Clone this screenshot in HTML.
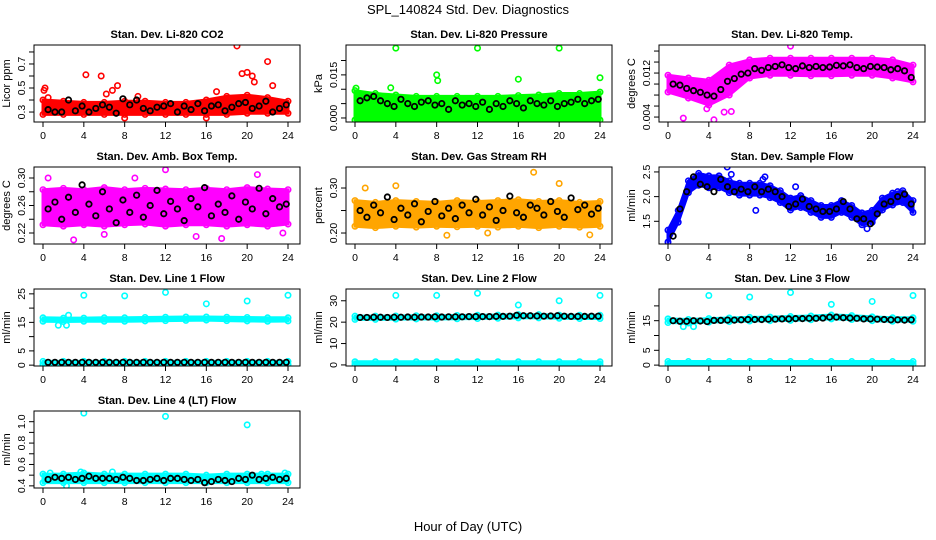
<!DOCTYPE html>
<html><head><meta charset="utf-8">
<style>
html,body{margin:0;padding:0;background:#fff;}
svg{display:block;font-family:"Liberation Sans",Arial,sans-serif;}
</style></head>
<body>
<svg id="chart" width="936" height="540" viewBox="0 0 936 540" xmlns="http://www.w3.org/2000/svg">
<text x="468" y="14" font-size="13" text-anchor="middle">SPL_140824  Std. Dev. Diagnostics</text>
<text x="468" y="531" font-size="13" text-anchor="middle">Hour of Day (UTC)</text>
</svg>
<script>
const xTicks=[0,4,8,12,16,20,24];
const bandHours13=[0,2,4,6,8,10,12,14,16,18,20,22,24];
const bandHours25=[0,1,2,3,4,5,6,7,8,9,10,11,12,13,14,15,16,17,18,19,20,21,22,23,24];
const blackHours=[0.5,1.17,1.83,2.5,3.17,3.83,4.5,5.17,5.83,6.5,7.17,7.83,8.5,9.17,9.83,10.5,11.17,11.83,12.5,13.17,13.83,14.5,15.17,15.83,16.5,17.17,17.83,18.5,19.17,19.83,20.5,21.17,21.83,22.5,23.17,23.83];

// Panel 1 CO2
const co2Lo=[0.28,0.28,0.28,0.28,0.28,0.28,0.28,0.28,0.28,0.28,0.29,0.29,0.29];
const co2Hi=[0.40,0.39,0.38,0.38,0.39,0.39,0.38,0.38,0.40,0.43,0.44,0.42,0.39];
const co2Black=[0.32,0.30,0.30,0.40,0.31,0.35,0.30,0.33,0.36,0.34,0.29,0.41,0.36,0.40,0.33,0.31,0.34,0.35,0.37,0.30,0.35,0.32,0.37,0.31,0.35,0.36,0.31,0.34,0.37,0.38,0.33,0.35,0.39,0.30,0.33,0.36];
const co2OutH=[0.1,0.2,4.2,5.7,7.3,6.8,8,16,19,19.5,20,20.5,20.7,22,22.5,9.3,17,0.5,6.2];
const co2OutV=[0.48,0.50,0.61,0.60,0.52,0.48,0.25,0.25,0.85,0.62,0.63,0.60,0.55,0.72,0.52,0.43,0.47,0.42,0.45];
// Panel 2 Pressure
const prLo=[-0.0007,-0.0007,-0.0007,-0.0007,-0.0007,-0.0007,-0.0007,-0.0007,-0.0007,-0.0007,-0.0007,-0.0007,-0.0007];
const prHi=[0.0095,0.0085,0.008,0.0075,0.0075,0.0075,0.0075,0.0075,0.0078,0.008,0.0085,0.0085,0.009];
const prBlack=[0.006,0.007,0.0075,0.006,0.005,0.004,0.0065,0.005,0.004,0.0055,0.006,0.0045,0.005,0.003,0.006,0.0045,0.005,0.004,0.0055,0.003,0.005,0.004,0.006,0.005,0.0035,0.006,0.005,0.0045,0.006,0.004,0.005,0.0055,0.0065,0.005,0.006,0.0065];
const prOutH=[4,8,8.1,12,16,20,24,0.1,3.5];
const prOutV=[0.0243,0.015,0.013,0.0243,0.0135,0.0243,0.014,0.0104,0.0105];
// Panel 3 Li-820 temp
const tLo=[0.00855,0.00745,0.00618,0.0080,0.0111,0.0116,0.0116,0.0115,0.0115,0.0116,0.0116,0.0111,0.0104];
const tHi=[0.0116,0.0111,0.0107,0.01345,0.0144,0.0147,0.0147,0.0147,0.0147,0.0147,0.0147,0.0144,0.01345];
const tBlack=[0.0100,0.0098,0.0092,0.0088,0.0085,0.0080,0.0078,0.0090,0.0105,0.0110,0.0118,0.0120,0.0128,0.0125,0.0130,0.0132,0.0135,0.0130,0.0128,0.0133,0.0130,0.0132,0.0130,0.0131,0.0134,0.0133,0.0135,0.0130,0.0128,0.0132,0.0131,0.0130,0.0126,0.0128,0.0124,0.0112];
const tOutH=[1.5,4.5,12,5.5,3.8,6.2];
const tOutV=[0.0038,0.0035,0.0169,0.0049,0.0055,0.0050];
// Panel 4 Amb box temp
const abLo=[0.232,0.230,0.232,0.230,0.232,0.233,0.230,0.232,0.232,0.230,0.232,0.230,0.233];
const abHi=[0.283,0.285,0.283,0.286,0.283,0.285,0.284,0.283,0.285,0.283,0.286,0.284,0.283];
const abBlack=[0.255,0.265,0.240,0.272,0.250,0.290,0.262,0.245,0.280,0.255,0.235,0.268,0.250,0.275,0.243,0.260,0.282,0.248,0.266,0.255,0.238,0.270,0.258,0.286,0.245,0.262,0.250,0.274,0.240,0.265,0.255,0.285,0.248,0.270,0.258,0.262];
const abOutH=[12,3,17.5,0.5,9,21,23.5,15,6];
const abOutV=[0.312,0.210,0.212,0.300,0.300,0.305,0.220,0.215,0.218];
// Panel 5 RH
const rhLo=[0.215,0.212,0.215,0.213,0.215,0.214,0.215,0.213,0.215,0.212,0.215,0.213,0.215];
const rhHi=[0.272,0.268,0.272,0.270,0.268,0.272,0.270,0.272,0.274,0.270,0.272,0.268,0.270];
const rhBlack=[0.250,0.235,0.262,0.245,0.280,0.230,0.255,0.240,0.265,0.225,0.248,0.270,0.238,0.255,0.232,0.262,0.245,0.275,0.240,0.258,0.228,0.250,0.282,0.245,0.235,0.262,0.255,0.240,0.270,0.248,0.235,0.278,0.252,0.262,0.242,0.255];
const rhOutH=[17.5,4,20,1,9,13,23];
const rhOutV=[0.335,0.305,0.310,0.300,0.195,0.200,0.196];
// Panel 6 Sample flow
const sfLo=[1.08,1.48,2.08,2.23,2.18,2.18,2.08,2.03,2.03,2.03,1.98,1.88,1.73,1.78,1.68,1.58,1.58,1.68,1.58,1.43,1.48,1.73,1.83,1.88,1.68];
const sfHi=[1.32,1.72,2.32,2.47,2.42,2.42,2.32,2.27,2.27,2.27,2.22,2.12,1.97,2.02,1.92,1.82,1.82,1.92,1.82,1.67,1.72,1.97,2.07,2.12,1.92];
const sfBlack=[1.2,1.75,2.1,2.4,2.25,2.2,2.1,2.35,2.2,2.1,2.15,2.1,2.2,2.1,2.15,2.1,2.0,1.8,1.85,1.95,1.8,1.75,1.7,1.7,1.75,1.9,1.75,1.55,1.55,1.45,1.65,1.85,1.9,2.0,2.05,1.85];
const sfOutH=[5.8,6.2,9.5,9.3,8.6,12.5,19.5,22.5];
const sfOutV=[2.6,2.45,2.4,2.35,1.72,2.2,1.35,2.1];
// Panel 7 Line 1
const l1Lo=[15.4,15.3,15.4,15.4,15.4,15.5,15.6,15.7,15.8,15.6,15.5,15.4,15.5];
const l1Hi=[16.6,16.5,16.5,16.6,16.6,16.7,16.8,16.9,16.9,16.8,16.7,16.6,16.6];
const l1Lo2=[0.2,0.2,0.2,0.2,0.2,0.2,0.2,0.2,0.2,0.2,0.2,0.2,0.2];
const l1Hi2=[1.3,1.3,1.3,1.3,1.3,1.3,1.3,1.3,1.3,1.3,1.3,1.3,1.3];
const l1Black=[1.0,1.0,1.0,1.0,1.0,1.0,1.0,1.0,1.0,1.0,1.0,1.0,1.0,1.0,1.0,1.0,1.0,1.0,1.0,1.0,1.0,1.0,1.0,1.0,1.0,1.0,1.0,1.0,1.0,1.0,1.0,1.0,1.0,1.0,1.0,1.0];
const l1OutH=[1.5,2.3,2.5,4,8,12,16,20,24];
const l1OutV=[14,14,17.5,24.5,24.3,25.5,21.5,22.5,24.5];
// Panel 8 Line 2
const l2Lo=[21.3,21.3,21.4,21.5,21.5,21.6,21.7,21.8,22.0,22.0,21.8,21.7,21.7];
const l2Hi=[22.8,22.8,22.9,23.0,23.0,23.1,23.2,23.3,23.5,23.5,23.3,23.2,23.2];
const l2Lo2=[0.3,0.3,0.3,0.3,0.3,0.3,0.3,0.3,0.3,0.3,0.3,0.3,0.3];
const l2Hi2=[1.5,1.5,1.5,1.5,1.5,1.5,1.5,1.5,1.5,1.5,1.5,1.5,1.5];
const l2Black=[22.2,22.2,22.3,22.3,22.2,22.3,22.3,22.4,22.3,22.4,22.4,22.5,22.4,22.5,22.5,22.5,22.6,22.6,22.6,22.6,22.7,22.7,22.8,23.2,23.0,23.0,22.9,22.8,22.9,23.0,22.8,22.7,22.7,22.7,22.8,22.8];
const l2OutH=[4,8,12,16,20,24];
const l2OutV=[32.5,32.5,33.5,28,30,32.5];
// Panel 9 Line 3
const l3Lo=[14.4,14.2,14.5,14.7,14.9,15.0,15.1,15.3,15.6,15.4,15.0,14.8,14.8];
const l3Hi=[15.6,15.4,15.7,15.9,16.1,16.2,16.4,16.6,16.9,16.7,16.3,16.0,16.0];
const l3Lo2=[0.3,0.3,0.3,0.3,0.3,0.3,0.3,0.3,0.3,0.3,0.3,0.3,0.3];
const l3Hi2=[1.2,1.2,1.2,1.2,1.2,1.2,1.2,1.2,1.2,1.2,1.2,1.2,1.2];
const l3Black=[15.0,14.8,14.8,15.0,14.9,14.7,15.1,15.1,15.2,15.2,15.3,15.4,15.4,15.4,15.5,15.5,15.6,15.6,15.7,15.7,15.8,15.8,15.9,16.2,16.2,16.0,15.9,15.8,15.6,15.6,15.5,15.4,15.3,15.3,15.2,15.3];
const l3OutH=[1.5,2.5,4,8,12,16,20,24];
const l3OutV=[13,13,23.5,23,24.5,20.5,21.5,23.5];
// Panel 10 Line 4
const l4Lo=[0.43,0.43,0.43,0.43,0.43,0.43,0.43,0.43,0.43,0.43,0.43,0.43,0.43];
const l4Hi=[0.51,0.51,0.52,0.51,0.51,0.51,0.51,0.51,0.50,0.51,0.51,0.51,0.51];
const l4Black=[0.46,0.48,0.47,0.48,0.46,0.47,0.49,0.47,0.47,0.47,0.46,0.48,0.47,0.45,0.45,0.46,0.47,0.45,0.47,0.47,0.46,0.45,0.46,0.43,0.44,0.46,0.45,0.44,0.47,0.46,0.50,0.46,0.47,0.48,0.46,0.47];
const l4OutH=[4,12,20,0.7,3.7,6.8,2.3,21.4,23.7];
const l4OutV=[1.08,1.05,0.97,0.52,0.53,0.53,0.40,0.51,0.52];

const NS="http://www.w3.org/2000/svg";
const svg=document.getElementById('chart');
function el(tag,attrs,parent){const e=document.createElementNS(NS,tag);for(const k in attrs)e.setAttribute(k,attrs[k]);(parent||svg).appendChild(e);return e;}

const panels=[
 {t:"Stan. Dev. Li-820 CO2",yl:"Licor ppm",c:"#ff0000",r:0,col:0,ymin:0.217,ymax:0.858,ticks:[0.3,0.4,0.5,0.6,0.7,0.8],labs:[0.3,0.5,0.7],fmt:1,bands:[[bandHours13,co2Lo,co2Hi]],bk:co2Black,oh:co2OutH,ov:co2OutV},
 {t:"Stan. Dev. Li-820 Pressure",yl:"kPa",c:"#00ff00",r:0,col:1,ymin:-0.0014,ymax:0.0254,ticks:[0,0.005,0.01,0.015,0.02],labs:[0,0.015],fmt:3,bands:[[bandHours13,prLo,prHi]],bk:prBlack,oh:prOutH,ov:prOutV},
 {t:"Stan. Dev. Li-820 Temp.",yl:"degrees C",c:"#ff00ff",r:0,col:2,ymin:0.0031,ymax:0.0171,ticks:[0.004,0.006,0.008,0.010,0.012,0.014,0.016],labs:[0.004,0.012],fmt:3,bands:[[bandHours13,tLo,tHi]],bk:tBlack,oh:tOutH,ov:tOutV},
 {t:"Stan. Dev. Amb. Box Temp.",yl:"degrees C",c:"#ff00ff",r:1,col:0,ymin:0.204,ymax:0.316,ticks:[0.22,0.24,0.26,0.28,0.30],labs:[0.22,0.26,0.30],fmt:2,bands:[[bandHours13,abLo,abHi]],bk:abBlack,oh:abOutH,ov:abOutV},
 {t:"Stan. Dev. Gas Stream RH",yl:"percent",c:"#ffa500",r:1,col:1,ymin:0.1756,ymax:0.3467,ticks:[0.20,0.25,0.30],labs:[0.20,0.30],fmt:2,bands:[[bandHours13,rhLo,rhHi]],bk:rhBlack,oh:rhOutH,ov:rhOutV},
 {t:"Stan. Dev. Sample Flow",yl:"ml/min",c:"#0000ff",r:1,col:2,ymin:1.04,ymax:2.6,ticks:[1.5,2.0,2.5],labs:[1.5,2.0,2.5],fmt:1,bands:[[bandHours25,sfLo,sfHi]],bk:sfBlack,oh:sfOutH,ov:sfOutV},
 {t:"Stan. Dev. Line 1 Flow",yl:"ml/min",c:"#00ffff",r:2,col:0,ymin:-0.3,ymax:26.7,ticks:[0,5,10,15,20,25],labs:[0,5,15,25],fmt:0,bands:[[bandHours13,l1Lo,l1Hi],[bandHours13,l1Lo2,l1Hi2]],bk:l1Black,oh:l1OutH,ov:l1OutV},
 {t:"Stan. Dev. Line 2 Flow",yl:"ml/min",c:"#00ffff",r:2,col:1,ymin:-0.5,ymax:35.5,ticks:[0,10,20,30],labs:[0,10,20,30],fmt:0,bands:[[bandHours13,l2Lo,l2Hi],[bandHours13,l2Lo2,l2Hi2]],bk:l2Black,oh:l2OutH,ov:l2OutV},
 {t:"Stan. Dev. Line 3 Flow",yl:"ml/min",c:"#00ffff",r:2,col:2,ymin:-0.3,ymax:25.7,ticks:[0,5,10,15,20],labs:[0,5,15],fmt:0,bands:[[bandHours13,l3Lo,l3Hi],[bandHours13,l3Lo2,l3Hi2]],bk:l3Black,oh:l3OutH,ov:l3OutV},
 {t:"Stan. Dev. Line 4 (LT) Flow",yl:"ml/min",c:"#00ffff",r:3,col:0,ymin:0.38,ymax:1.10,ticks:[0.4,0.5,0.6,0.7,0.8,0.9,1.0],labs:[0.4,0.6,0.8,1.0],fmt:1,bands:[[bandHours13,l4Lo,l4Hi]],bk:l4Black,oh:l4OutH,ov:l4OutV}
];
const colX=[34,346,659], rowY=[45,167,289,411], W=266, H=77;

panels.forEach((p,i)=>{
  const L=colX[p.col], T=rowY[p.r], B=T+H;
  const xs=h=>L+9+h*(245/24);
  const ys=v=>B-(v-p.ymin)/(p.ymax-p.ymin)*H;
  const g=el('g',{});
  
  
  const tt=el('text',{x:L+W/2,y:T-7,'font-size':11,'font-weight':'bold','text-anchor':'middle'},g);
  tt.textContent=p.t;
  
  
  const yl=el('text',{x:0,y:0,'font-size':11,'text-anchor':'middle',transform:`translate(${L-24},${T+H/2}) rotate(-90)`},g);
  yl.textContent=p.yl;
  
  
  const cid='clip'+i;
  const cp=el('clipPath',{id:cid},g); el('rect',{x:L,y:T,width:W,height:H},cp);
  const dg=el('g',{'clip-path':`url(#${cid})`},g);
  
  
  p.bands.forEach(([hs,lo,hi])=>{
    let pts=hs.map((h,k)=>xs(h)+','+ys(hi[k]));
    pts=pts.concat(hs.map((h,k)=>xs(h)+','+ys(lo[k])).reverse());
    const poly=el('polygon',{points:pts.join(' '),fill:p.c,stroke:p.c,'stroke-width':3,'stroke-linejoin':'round'},dg);
    
    
    hs.forEach((h,k)=>{
      [lo[k],hi[k]].forEach(v=>{
        const c=el('circle',{cx:xs(h),cy:ys(v),r:2.7,fill:'none',stroke:p.c,'stroke-width':1.6},dg);
        
        
      });
    });
  });
  p.oh.forEach((h,k)=>{
    const c=el('circle',{cx:xs(h),cy:ys(p.ov[k]),r:2.7,fill:'none',stroke:p.c,'stroke-width':1.6},dg);
    
    
  });
  blackHours.forEach((h,k)=>{
    const c=el('circle',{cx:xs(h),cy:ys(p.bk[k]),r:2.7,fill:'none',stroke:'#000','stroke-width':1.8},dg);
    
    
  });
  const box=el('rect',{x:L,y:T,width:W,height:H,fill:'none',stroke:'#000','stroke-width':1},g);
  
  
  xTicks.forEach(t=>{
    el('line',{x1:xs(t),x2:xs(t),y1:B,y2:B+5,stroke:'#000'},g);
    const tx=el('text',{x:xs(t),y:B+17,'font-size':10.5,'text-anchor':'middle'},g);
    tx.textContent=t;
    
    
  });
  p.ticks.forEach(t=>{el('line',{x1:L-5,x2:L,y1:ys(t),y2:ys(t),stroke:'#000'},g);});
  p.labs.forEach(t=>{
    const tx=el('text',{x:0,y:0,'font-size':10.5,'text-anchor':'middle',transform:`translate(${L-9},${ys(t)}) rotate(-90)`},g);
    tx.textContent=t.toFixed(p.fmt);
    
    
  });
});
</script>
</body></html>
